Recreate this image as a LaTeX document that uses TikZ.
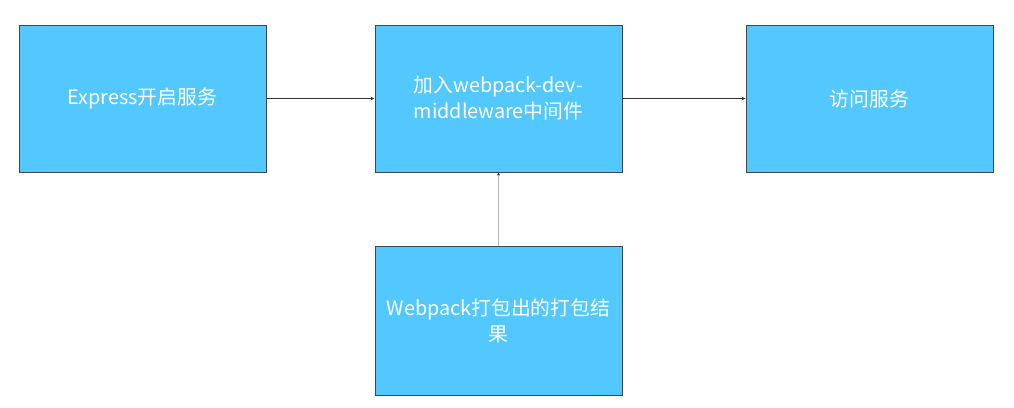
\documentclass[tikz,border=0pt]{standalone}
\usepackage{fontspec}
\setmainfont{Noto Sans CJK SC}
\usetikzlibrary{arrows.meta}
\definecolor{boxfill}{HTML}{52C8FF}
\definecolor{boxline}{HTML}{3E4650}
\definecolor{vline}{HTML}{B4B4B4}
\begin{document}
\begin{tikzpicture}[x=1pt,y=-1pt,
  stepbox/.style={draw=boxline,line width=1pt,fill=boxfill,minimum width=247pt,minimum height=147pt,
    inner sep=0pt,text=white,font=\fontsize{19.8}{26}\selectfont,align=center},
  conn/.style={draw=black!80,line width=0.8pt,-{Stealth[length=4pt,width=3.5pt]}},
  conn2/.style={draw=vline,line width=1pt,-{Stealth[length=3pt,width=3pt,color=black!80]}}]
\useasboundingbox (0,0) rectangle (1014,407);
\node[stepbox] (a) at (142.5,98.5) {Express开启服务};
\node[stepbox] (b) at (498.5,98.5) {加入webpack-dev-\\middleware中间件};
\node[stepbox] (c) at (869.5,98.5) {访问服务};
\node[stepbox,minimum height=149pt] (d) at (498.5,320.5) {Webpack打包出的打包结\\果};
\draw[conn] (a) -- (b);
\draw[conn] (b) -- (c);
\draw[conn2] (d) -- (b);
\end{tikzpicture}
\end{document}
